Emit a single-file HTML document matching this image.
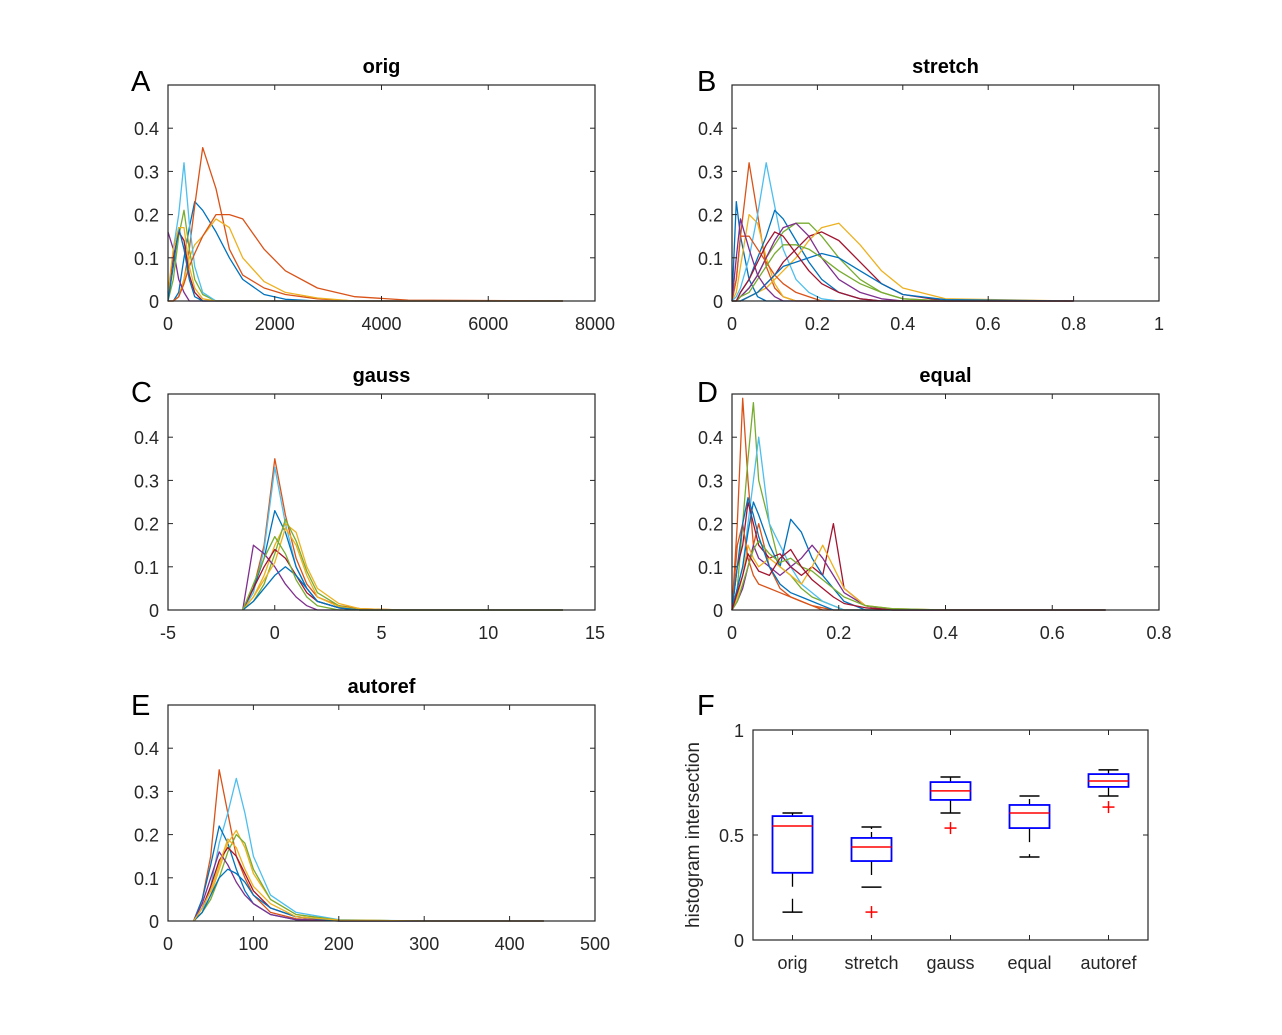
<!DOCTYPE html>
<html><head><meta charset="utf-8">
<style>
html,body{margin:0;padding:0;background:#fff;}
svg{display:block;font-family:"Liberation Sans",Arial,sans-serif;}
.tick{font-size:18px;fill:#262626;}
.ttl{font-size:20px;font-weight:bold;fill:#000;}
.let{font-size:29px;fill:#000;}
</style></head>
<body>
<svg id="fig" width="1282" height="1035" viewBox="0 0 1282 1035" xmlns="http://www.w3.org/2000/svg"></svg>
<script>
// ---------- DATA ----------
const colors = ["#0072BD","#D95319","#EDB120","#7E2F8E","#77AC30","#4DBEEE","#A2142F"];
const yTicks = [0,0.1,0.2,0.3,0.4];
const yTickLabels = ["0","0.1","0.2","0.3","0.4"];

// Panel A (orig)
const aXTicks = [0,2000,4000,6000,8000];
const aX = [0,100,200,300,400,500,650,900,1150,1400,1800,2200,2800,3500,4500,7400];
const aSeries = [
 [0,0,0.02,0.1,0.17,0.23,0.21,0.16,0.1,0.05,0.015,0.004,0,0,0,0],
 [0,0,0.01,0.05,0.12,0.22,0.355,0.26,0.12,0.06,0.03,0.015,0.005,0,0,0],
 [0,0,0.01,0.05,0.1,0.13,0.15,0.19,0.17,0.1,0.045,0.02,0.007,0,0,0],
 [0.16,0.12,0.05,0.02,0,0,0,0,0,0,0,0,0,0,0,0],
 [0,0.05,0.15,0.21,0.12,0.05,0.015,0,0,0,0,0,0,0,0,0],
 [0,0.12,0.2,0.32,0.18,0.08,0.02,0,0,0,0,0,0,0,0,0],
 [0.02,0.1,0.16,0.14,0.06,0.02,0,0,0,0,0,0,0,0,0,0],
 [0,0,0.01,0.04,0.08,0.11,0.15,0.2,0.2,0.19,0.12,0.07,0.03,0.01,0.002,0],
 [0,0.08,0.17,0.12,0.05,0.01,0,0,0,0,0,0,0,0,0,0],
 [0.02,0.12,0.17,0.17,0.08,0.03,0.005,0,0,0,0,0,0,0,0,0]
];
const aColors = [0,1,2,3,4,5,6,1,0,2];

// Panel B (stretch)
const bXTicks = [0,0.2,0.4,0.6,0.8,1];
const bXLabels = ["0","0.2","0.4","0.6","0.8","1"];
const bX = [0,0.01,0.02,0.04,0.06,0.08,0.1,0.12,0.15,0.18,0.21,0.25,0.3,0.35,0.4,0.5,0.8];
const bSeries = [
 [0,0.23,0.15,0.05,0.01,0,0,0,0,0,0,0,0,0,0,0,0],
 [0,0.05,0.15,0.32,0.2,0.08,0.03,0.01,0,0,0,0,0,0,0,0,0],
 [0,0.02,0.08,0.2,0.18,0.1,0.04,0.01,0,0,0,0,0,0,0,0,0],
 [0,0.01,0.03,0.1,0.2,0.32,0.22,0.12,0.05,0.02,0.005,0,0,0,0,0,0],
 [0,0,0.02,0.05,0.1,0.15,0.21,0.19,0.14,0.09,0.05,0.02,0.005,0,0,0,0],
 [0,0,0.01,0.03,0.06,0.1,0.13,0.16,0.18,0.18,0.15,0.1,0.05,0.02,0.005,0,0],
 [0,0,0,0.01,0.02,0.04,0.06,0.09,0.12,0.15,0.16,0.14,0.09,0.04,0.015,0,0],
 [0,0,0,0.01,0.02,0.03,0.05,0.07,0.1,0.14,0.17,0.18,0.13,0.07,0.03,0.005,0],
 [0,0,0.01,0.03,0.06,0.1,0.14,0.17,0.18,0.15,0.1,0.05,0.02,0.005,0,0,0],
 [0,0.05,0.15,0.15,0.12,0.09,0.06,0.04,0.02,0.01,0,0,0,0,0,0,0],
 [0,0,0,0.01,0.02,0.04,0.06,0.08,0.09,0.1,0.11,0.1,0.07,0.04,0.015,0.003,0],
 [0,0,0.01,0.02,0.05,0.08,0.11,0.13,0.13,0.12,0.1,0.07,0.04,0.02,0.005,0,0],
 [0,0.1,0.19,0.12,0.06,0.03,0.01,0,0,0,0,0,0,0,0,0,0],
 [0,0,0.02,0.05,0.09,0.13,0.16,0.15,0.11,0.07,0.04,0.02,0.005,0,0,0,0]
];
const bColors = [0,1,2,5,0,4,6,2,3,1,0,4,3,6];

// Panel C (gauss)
const cXTicks = [-5,0,5,10,15];
const cX = [-1.5,-1,-0.5,0,0.5,1,1.5,2,3,4,6,13.5];
const cSeries = [
 [0,0.05,0.15,0.35,0.22,0.12,0.06,0.03,0.01,0.003,0,0],
 [0,0.04,0.14,0.33,0.2,0.1,0.05,0.02,0.005,0,0,0],
 [0,0.05,0.12,0.23,0.18,0.1,0.05,0.02,0.005,0,0,0],
 [0,0.03,0.08,0.15,0.2,0.18,0.1,0.05,0.015,0.003,0,0],
 [0,0.02,0.06,0.13,0.21,0.16,0.09,0.04,0.01,0,0,0],
 [0,0.15,0.13,0.1,0.06,0.03,0.01,0,0,0,0,0],
 [0,0.05,0.1,0.14,0.12,0.08,0.04,0.02,0.005,0,0,0],
 [0,0.03,0.07,0.11,0.19,0.15,0.08,0.03,0.008,0,0,0],
 [0,0.02,0.05,0.08,0.1,0.08,0.05,0.02,0.005,0,0,0],
 [0,0.06,0.12,0.17,0.13,0.07,0.03,0.01,0,0,0,0]
];
const cColors = [1,5,0,2,4,3,6,2,0,4];

// Panel D (equal)
const dXTicks = [0,0.2,0.4,0.6,0.8];
const dXLabels = ["0","0.2","0.4","0.6","0.8"];
const dX = [0,0.01,0.02,0.03,0.04,0.05,0.07,0.09,0.11,0.13,0.15,0.17,0.19,0.21,0.25,0.3,0.4,0.7];
const dSeries = [
 [0,0.2,0.49,0.3,0.15,0.2,0.1,0.05,0.03,0.02,0.01,0,0,0,0,0,0,0],
 [0,0.05,0.2,0.35,0.48,0.3,0.2,0.1,0.08,0.05,0.03,0.02,0.01,0,0,0,0,0],
 [0,0.05,0.1,0.2,0.3,0.4,0.2,0.15,0.1,0.06,0.04,0.02,0.01,0,0,0,0,0],
 [0,0.1,0.15,0.25,0.2,0.15,0.12,0.13,0.1,0.08,0.1,0.08,0.2,0.05,0.01,0,0,0],
 [0,0.05,0.1,0.18,0.25,0.22,0.15,0.1,0.21,0.18,0.12,0.08,0.05,0.02,0,0,0,0],
 [0,0.02,0.05,0.1,0.15,0.12,0.1,0.08,0.1,0.12,0.15,0.12,0.08,0.04,0.01,0,0,0],
 [0,0.03,0.08,0.15,0.12,0.1,0.12,0.1,0.08,0.06,0.1,0.15,0.1,0.05,0.01,0.003,0,0],
 [0,0.15,0.2,0.12,0.08,0.06,0.05,0.04,0.03,0.02,0.01,0.005,0,0,0,0,0,0],
 [0,0.02,0.06,0.1,0.14,0.16,0.13,0.11,0.12,0.1,0.09,0.07,0.05,0.03,0.01,0.003,0,0],
 [0,0.1,0.2,0.26,0.22,0.17,0.1,0.06,0.04,0.03,0.02,0.01,0,0,0,0,0,0],
 [0,0.04,0.08,0.13,0.11,0.09,0.08,0.12,0.14,0.1,0.07,0.05,0.03,0.015,0.005,0,0,0]
];
const dColors = [1,4,5,6,0,3,2,1,4,0,6];

// Panel E (autoref)
const eXTicks = [0,100,200,300,400,500];
const eX = [30,40,50,60,70,80,90,100,120,150,200,300,440];
const eSeries = [
 [0,0.05,0.15,0.35,0.25,0.15,0.1,0.06,0.02,0.005,0,0,0],
 [0,0.02,0.08,0.18,0.25,0.33,0.25,0.15,0.06,0.02,0.003,0,0],
 [0,0.05,0.13,0.22,0.18,0.12,0.07,0.04,0.015,0.003,0,0,0],
 [0,0.02,0.06,0.12,0.18,0.21,0.17,0.11,0.05,0.015,0.002,0,0],
 [0,0.02,0.05,0.1,0.16,0.2,0.18,0.12,0.05,0.015,0.002,0,0],
 [0,0.04,0.1,0.16,0.13,0.09,0.06,0.04,0.015,0.003,0,0,0],
 [0,0.03,0.08,0.14,0.17,0.15,0.11,0.07,0.03,0.01,0,0,0],
 [0,0.02,0.06,0.1,0.12,0.11,0.09,0.06,0.03,0.01,0,0,0],
 [0,0.03,0.07,0.13,0.19,0.17,0.12,0.08,0.04,0.01,0.002,0,0]
];
const eColors = [1,5,0,2,4,3,6,0,2];

// Panel F (boxplot)
const fCats = ["orig","stretch","gauss","equal","autoref"];
const fWhiskHi = [0.605,0.538,0.776,0.686,0.81];
const fQ3 = [0.59,0.486,0.752,0.643,0.79];
const fMed = [0.543,0.443,0.71,0.605,0.757];
const fQ1 = [0.32,0.376,0.667,0.533,0.729];
const fWhiskLo = [0.133,0.252,0.605,0.395,0.686];
const fOutliers = [null,0.133,0.533,null,0.633];
const fYTicks = [0,0.5,1];
const fYLabels = ["0","0.5","1"];

// ---------- DRAW ----------
const NS="http://www.w3.org/2000/svg";
const svg=document.getElementById('fig');
function mk(tag,attrs,parent){const e=document.createElementNS(NS,tag);for(const k in attrs)e.setAttribute(k,attrs[k]);(parent||svg).appendChild(e);return e;}

function panel(cfg){
  const g=mk('g',{});
  
  
  const sx=v=>cfg.L+(v-cfg.x0)/(cfg.x1-cfg.x0)*(cfg.R-cfg.L);
  const sy=v=>cfg.B-(v-cfg.y0)/(cfg.y1-cfg.y0)*(cfg.B-cfg.T);
  if(cfg.series){
    cfg.series.forEach((s,i)=>{
      const pts=s.map((y,j)=>sx(cfg.xs[j]).toFixed(1)+','+sy(y).toFixed(1)).join(' ');
      const p=mk('polyline',{points:pts,fill:'none',stroke:colors[cfg.cols[i]],'stroke-width':1.3,'stroke-linejoin':'round'},g);
      
      
    });
  }
  const fr=mk('rect',{x:cfg.L,y:cfg.T,width:cfg.R-cfg.L,height:cfg.B-cfg.T,fill:'none',stroke:'#262626','stroke-width':1.2},g);
  
  
  cfg.xt.forEach((v,i)=>{
    const x=sx(v);
    mk('line',{x1:x,y1:cfg.B,x2:x,y2:cfg.B-5,stroke:'#262626'},g);
    mk('line',{x1:x,y1:cfg.T,x2:x,y2:cfg.T+5,stroke:'#262626'},g);
    const t=mk('text',{x:x,y:cfg.B+29,'text-anchor':'middle',class:'tick'},g);
    t.textContent=cfg.xl?cfg.xl[i]:String(v);
    
    
  });
  cfg.yt.forEach((v,i)=>{
    const y=sy(v);
    mk('line',{x1:cfg.L,y1:y,x2:cfg.L+5,y2:y,stroke:'#262626'},g);
    mk('line',{x1:cfg.R,y1:y,x2:cfg.R-5,y2:y,stroke:'#262626'},g);
    const t=mk('text',{x:cfg.L-9,y:y+7,'text-anchor':'end',class:'tick'},g);
    t.textContent=cfg.yl[i];
    
    
  });
  if(cfg.title){
    const t=mk('text',{x:(cfg.L+cfg.R)/2,y:cfg.T-12,'text-anchor':'middle',class:'ttl'},g);
    t.textContent=cfg.title;
    
    
  }
  const l=mk('text',{x:cfg.lx,y:cfg.ly,class:'let'},g);
  l.textContent=cfg.letter;
  
  
  return {g,sx,sy};
}

panel({name:'orig',L:168,R:595,T:85,B:301,x0:0,x1:8000,y0:0,y1:0.5,xs:aX,series:aSeries,cols:aColors,xt:aXTicks,yt:yTicks,yl:yTickLabels,title:'orig',letter:'A',lx:131,ly:91});
panel({name:'stretch',L:732,R:1159,T:85,B:301,x0:0,x1:1,y0:0,y1:0.5,xs:bX,series:bSeries,cols:bColors,xt:bXTicks,xl:bXLabels,yt:yTicks,yl:yTickLabels,title:'stretch',letter:'B',lx:697,ly:91});
panel({name:'gauss',L:168,R:595,T:394,B:610,x0:-5,x1:15,y0:0,y1:0.5,xs:cX,series:cSeries,cols:cColors,xt:cXTicks,yt:yTicks,yl:yTickLabels,title:'gauss',letter:'C',lx:131,ly:402});
panel({name:'equal',L:732,R:1159,T:394,B:610,x0:0,x1:0.8,y0:0,y1:0.5,xs:dX,series:dSeries,cols:dColors,xt:dXTicks,xl:dXLabels,yt:yTicks,yl:yTickLabels,title:'equal',letter:'D',lx:697,ly:402});
panel({name:'autoref',L:168,R:595,T:705,B:921,x0:0,x1:500,y0:0,y1:0.5,xs:eX,series:eSeries,cols:eColors,xt:eXTicks,yt:yTicks,yl:yTickLabels,title:'autoref',letter:'E',lx:131,ly:715});

const F=panel({name:'boxplot',L:753,R:1148,T:730,B:940,x0:0.5,x1:5.5,y0:0,y1:1,xt:[1,2,3,4,5],xl:fCats,yt:fYTicks,yl:fYLabels,letter:'F',lx:697,ly:715});
const yl=mk('text',{x:0,y:0,class:'tick',style:'font-size:19px',transform:'translate(699,835) rotate(-90)','text-anchor':'middle'});
yl.textContent='histogram intersection';


fCats.forEach((c,i)=>{
  const cx=F.sx(i+1), hw=20, cw=13;
  const g=mk('g',{});
  
  
  mk('line',{x1:cx,y1:F.sy(fQ3[i]),x2:cx,y2:F.sy(fWhiskHi[i]),stroke:'#000','stroke-width':1.3,'stroke-dasharray':'6,3'},g);
  mk('line',{x1:cx,y1:F.sy(fQ1[i]),x2:cx,y2:F.sy(fWhiskLo[i]),stroke:'#000','stroke-width':1.3,'stroke-dasharray':'14,12'},g);
  mk('line',{x1:cx-cw/1.3,y1:F.sy(fWhiskHi[i]),x2:cx+cw/1.3,y2:F.sy(fWhiskHi[i]),stroke:'#000','stroke-width':1.5},g);
  mk('line',{x1:cx-cw/1.3,y1:F.sy(fWhiskLo[i]),x2:cx+cw/1.3,y2:F.sy(fWhiskLo[i]),stroke:'#000','stroke-width':1.5},g);
  mk('rect',{x:cx-hw,y:F.sy(fQ3[i]),width:2*hw,height:F.sy(fQ1[i])-F.sy(fQ3[i]),fill:'#fff',stroke:'#0000ff','stroke-width':1.8},g);
  mk('line',{x1:cx-hw,y1:F.sy(fMed[i]),x2:cx+hw,y2:F.sy(fMed[i]),stroke:'#ff0000','stroke-width':1.5},g);
  if(fOutliers[i]!==null){
    const oy=F.sy(fOutliers[i]);
    mk('line',{x1:cx-6,y1:oy,x2:cx+6,y2:oy,stroke:'#ff0000','stroke-width':1.5},g);
    mk('line',{x1:cx,y1:oy-6,x2:cx,y2:oy+6,stroke:'#ff0000','stroke-width':1.5},g);
  }
});
</script>
</body></html>
